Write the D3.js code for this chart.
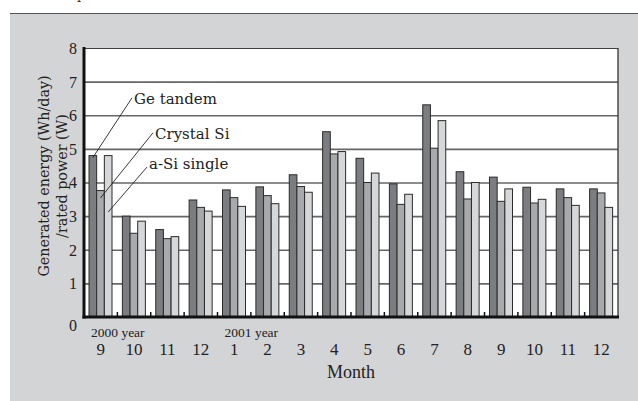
<!DOCTYPE html>
<html>
<head>
<meta charset="utf-8">
<script src="https://cdn.jsdelivr.net/npm/d3@7"></script>
<style>
  html, body { margin: 0; padding: 0; background: #ffffff; }
  svg { display: block; }
</style>
</head>
<body>
<svg id="chart" width="638" height="401"></svg>
<script>
// ---------- data ----------
const monthLabels = ["9","10","11","12","1","2","3","4","5","6","7","8","9","10","11","12"];
const seriesNames = ["Ge tandem","Crystal Si","a-Si single"];
const geTandem  = [4.80,3.00,2.60,3.48,3.78,3.87,4.23,5.51,4.72,3.96,6.31,4.32,4.16,3.86,3.81,3.81];
const crystalSi = [3.76,2.49,2.33,3.26,3.55,3.61,3.88,4.85,4.00,3.35,5.02,3.51,3.44,3.39,3.55,3.69];
const aSiSingle = [4.80,2.85,2.39,3.15,3.29,3.37,3.71,4.92,4.28,3.65,5.84,4.00,3.81,3.50,3.32,3.26];
const yTickValues = [0,1,2,3,4,5,6,7,8];
const yearLabels = ["2000 year","2001 year"];
const yearLabelIndex = [0,4];
const xTitle = "Month";
const yTitleLines = ["Generated energy (Wh/day)","/rated power (W)"];

// ---------- layout ----------
const svg = d3.select("#chart");
const W = 638, H = 401;
const plot = {left: 84, right: 618, top: 48, bottom: 317};
const fills = ["#7c7d81", "#a8a9ac", "#d6d7d9"];
const serifNum = "'Liberation Serif', 'Times New Roman', serif";
const serifTxt = "'DejaVu Serif', serif";

// panel background
svg.append("rect").attr("x", 0).attr("y", 0).attr("width", W).attr("height", H).attr("fill", "#ffffff");
svg.append("rect").attr("x", 10).attr("y", 13).attr("width", W - 10).attr("height", H - 13).attr("fill", "#d3d4d6");
svg.append("line").attr("x1", 10).attr("x2", W).attr("y1", 13.5).attr("y2", 13.5)
   .attr("stroke", "#555").attr("stroke-width", 1.2);
// cut-off caption fragment at very top (only its descender is visible in the reference)
svg.append("text").attr("x", 77).attr("y", -1).attr("font-family", serifTxt).attr("font-size", 13)
   .attr("fill", "#333").text("p");

// scales
const x0 = d3.scaleBand().domain(d3.range(monthLabels.length)).range([plot.left, plot.right]).padding(0);
const x1 = d3.scaleBand().domain(d3.range(seriesNames.length)).range([5, 28]).padding(0);
const y = d3.scaleLinear().domain([0, 8]).range([plot.bottom, plot.top]);

// plot background
svg.append("rect").attr("x", plot.left).attr("y", plot.top)
   .attr("width", plot.right - plot.left).attr("height", plot.bottom - plot.top).attr("fill", "#ffffff");

// gridlines
const grid = svg.append("g").attr("transform", `translate(${plot.left},0)`)
  .call(d3.axisLeft(y).tickValues(yTickValues.filter(v => v > 0 && v < 8))
        .tickSize(-(plot.right - plot.left)).tickFormat(""));
grid.select(".domain").remove();
grid.selectAll("line").attr("stroke", "#666").attr("stroke-width", 1.6);

// top and right borders
svg.append("line").attr("x1", plot.left).attr("x2", plot.right).attr("y1", plot.top + 0.5).attr("y2", plot.top + 0.5)
   .attr("stroke", "#444").attr("stroke-width", 1.2);
svg.append("line").attr("x1", plot.right).attr("x2", plot.right).attr("y1", plot.top).attr("y2", plot.bottom)
   .attr("stroke", "#333").attr("stroke-width", 1.3);

// bars
const series = [geTandem, crystalSi, aSiSingle];
const groups = svg.append("g").selectAll("g").data(monthLabels.map((m, i) => i)).join("g")
  .attr("transform", i => `translate(${x0(i)},0)`);
groups.selectAll("rect").data(i => series.map((s, k) => ({k, v: s[i]}))).join("rect")
  .attr("x", d => x1(d.k)).attr("width", x1.bandwidth())
  .attr("y", d => y(d.v)).attr("height", d => y(0) - y(d.v))
  .attr("fill", d => fills[d.k]).attr("stroke", "#2b2b2b").attr("stroke-width", 1);

// y axis labels
const yAxis = svg.append("g").attr("transform", `translate(${plot.left},0)`)
  .call(d3.axisLeft(y).tickValues(yTickValues).tickSize(0).tickPadding(7).tickFormat(d3.format("d")));
yAxis.select(".domain").remove();
yAxis.selectAll("text").attr("font-family", serifNum).attr("font-size", 16).attr("fill", "#222")
  .attr("dy", d => d === 0 ? "0.85em" : "0.34em");

// x axis month labels
const xAxis = svg.append("g").attr("transform", `translate(0,${plot.bottom})`)
  .call(d3.axisBottom(x0).tickSize(0).tickPadding(0).tickFormat(i => monthLabels[i]));
xAxis.select(".domain").remove();
xAxis.selectAll("text").attr("font-family", serifNum).attr("font-size", 17).attr("fill", "#222")
  .attr("dy", 0).attr("y", 38);

// year labels
svg.append("g").selectAll("text").data(yearLabels).join("text")
  .attr("x", (d, j) => x0(yearLabelIndex[j]) + 7).attr("y", plot.bottom + 20)
  .attr("font-family", serifNum).attr("font-size", 13.5).attr("fill", "#222").text(d => d);

// axis lines (thick)
svg.append("line").attr("x1", plot.left).attr("x2", plot.left).attr("y1", plot.top - 1).attr("y2", plot.bottom + 1.5)
   .attr("stroke", "#111").attr("stroke-width", 3);
svg.append("line").attr("x1", plot.left - 1.5).attr("x2", plot.right + 1).attr("y1", plot.bottom).attr("y2", plot.bottom)
   .attr("stroke", "#111").attr("stroke-width", 3);
// group boundary ticks
svg.append("g").selectAll("line").data(d3.range(1, monthLabels.length)).join("line")
  .attr("x1", i => x0(i)).attr("x2", i => x0(i))
  .attr("y1", plot.bottom).attr("y2", plot.bottom - 5)
  .attr("stroke", "#111").attr("stroke-width", 1.5);

// axis titles
svg.append("text").attr("x", (plot.left + plot.right) / 2).attr("y", 378)
  .attr("text-anchor", "middle").attr("font-family", serifNum).attr("font-size", 18).attr("fill", "#222").text(xTitle);
const yt = svg.append("text").attr("transform", `translate(0,176) rotate(-90)`)
  .attr("text-anchor", "middle").attr("font-family", serifTxt).attr("font-size", 14.3).attr("fill", "#222");
yTitleLines.forEach((t, j) => {
  yt.append("tspan").attr("x", 0).attr("y", j === 0 ? 49 : 67).text(t);
});

// series annotations with leader lines
const ann = [
  {k: 0, lx: 50, lv: 6.34, ev: 4.74, sx: -2, sy: -6},
  {k: 1, lx: 71, lv: 5.30, ev: 3.54, sx: -2, sy: -6},
  {k: 2, lx: 65, lv: 4.40, ev: 3.12, sx: -2, sy: -2}
];
const annG = svg.append("g");
ann.forEach(a => {
  const lx = plot.left + a.lx, ly = y(a.lv);
  annG.append("line")
    .attr("x1", lx + a.sx).attr("y1", ly + a.sy)
    .attr("x2", x0(0) + x1(a.k) + x1.bandwidth() / 2).attr("y2", y(a.ev))
    .attr("stroke", "#222").attr("stroke-width", 0.9);
  annG.append("text").attr("x", lx).attr("y", ly)
    .attr("font-family", serifTxt).attr("font-size", 15).attr("fill", "#222").text(seriesNames[a.k]);
});
</script>
</body>
</html>
